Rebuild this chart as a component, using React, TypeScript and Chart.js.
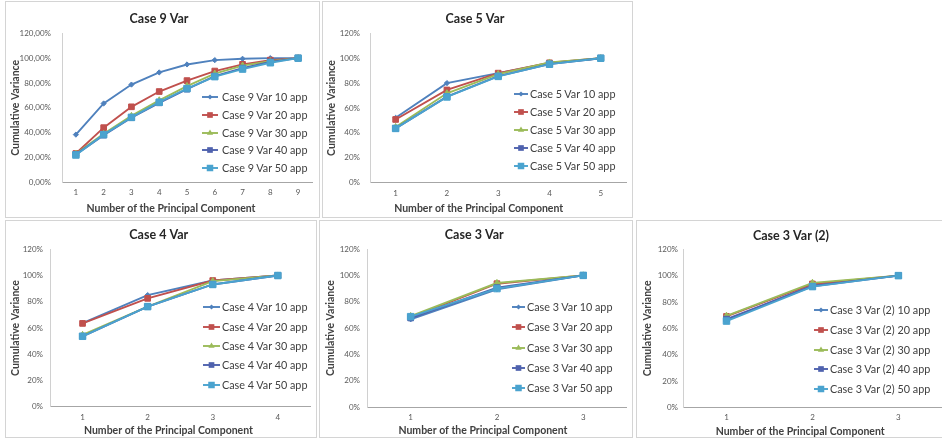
import React, { useEffect, useRef } from 'react';
import { Chart, registerables } from 'chart.js';

Chart.register(...registerables);

const FONT = 'Lato, "Open Sans", "DejaVu Sans", sans-serif';

// ---------- data ----------
const case9Components = ['1', '2', '3', '4', '5', '6', '7', '8', '9'];
const case9App10 = [38.4, 63.5, 78.7, 88.5, 94.9, 98.4, 99.5, 100, 100];
const case9App20 = [23.2, 44.0, 60.8, 73.1, 81.9, 89.6, 95.0, 98.4, 100];
const case9App30 = [23.0, 39.0, 53.5, 66.0, 77.5, 87.5, 94.0, 97.5, 100];
const case9App40 = [22.5, 38.0, 52.0, 64.0, 75.0, 85.5, 92.0, 97.0, 100];
const case9App50 = [22.0, 38.4, 52.3, 64.5, 75.5, 85.1, 91.2, 96.3, 100];

const case5Components = ['1', '2', '3', '4', '5'];
const case5App10 = [52.1, 80.0, 88.0, 96.0, 100];
const case5App20 = [50.8, 74.5, 88.0, 96.3, 100];
const case5App30 = [44.7, 71.8, 87.2, 96.5, 100];
const case5App40 = [43.6, 69.1, 85.6, 95.2, 100];
const case5App50 = [43.6, 68.9, 85.4, 95.2, 100];

const case4Components = ['1', '2', '3', '4'];
const case4App10 = [63.7, 85.1, 96.2, 100];
const case4App20 = [63.5, 82.6, 96.2, 100];
const case4App30 = [54.7, 76.3, 95.7, 100];
const case4App40 = [53.7, 76.3, 93.2, 100];
const case4App50 = [53.7, 76.3, 93.2, 100];

const case3Components = ['1', '2', '3'];
const case3App10 = [66.7, 89.5, 100];
const case3App20 = [68.2, 93.7, 100];
const case3App30 = [69.2, 94.2, 100];
const case3App40 = [67.7, 90.7, 100];
const case3App50 = [68.7, 90.0, 100];

const case3bComponents = ['1', '2', '3'];
const case3bApp10 = [66.0, 92.9, 100];
const case3bApp20 = [69.0, 93.7, 100];
const case3bApp30 = [69.5, 94.5, 100];
const case3bApp40 = [67.0, 91.9, 100];
const case3bApp50 = [65.5, 91.7, 100];

const appCounts = ['10', '20', '30', '40', '50'];
const yMin = 0;
const yMax = 120;
const yStep = 20;

// ---------- styles ----------
const seriesColors = ['#4F81BD', '#C0504D', '#9BBB59', '#4F62AE', '#4AA3CF'];
const seriesPointStyles = ['rectRot', 'rect', 'triangle', 'rect', 'rect'];
const seriesRadii = [2.6, 4.0, 3.6, 4.0, 4.6];

type Spec = {
  title: string;
  prefix: string;
  labels: string[];
  series: number[][];
  decimals: boolean;
  box: [number, number, number, number];
  canvasW?: number;
  ca: [number, number, number, number];
  titleY: number;
  yLabelRight: number;
  yTitleX: number;
  xLabelY: number;
  xTitleY: number;
  xTitleCenter: number;
  legend: { markerL: number; markerR: number; textX: number; y0: number; dy: number };
};

const panels: Spec[] = [
  {
    title: 'Case 9 Var', prefix: 'Case 9 Var', labels: case9Components,
    series: [case9App10, case9App20, case9App30, case9App40, case9App50], decimals: true,
    box: [6, 2, 313, 215], ca: [62, 33.3, 312, 182.3], titleY: 18.5,
    yLabelRight: 51, yTitleX: 16, xLabelY: 192.5, xTitleY: 208.5, xTitleCenter: 171,
    legend: { markerL: 202, markerR: 218, textX: 222, y0: 97.3, dy: 17.6 },
  },
  {
    title: 'Case 5 Var', prefix: 'Case 5 Var', labels: case5Components,
    series: [case5App10, case5App20, case5App30, case5App40, case5App50], decimals: false,
    box: [323, 2, 309, 215], ca: [370, 33.3, 627, 182.7], titleY: 19,
    yLabelRight: 360, yTitleX: 332, xLabelY: 193, xTitleY: 208.5, xTitleCenter: 479,
    legend: { markerL: 514, markerR: 528, textX: 530, y0: 94.3, dy: 17.85 },
  },
  {
    title: 'Case 4 Var', prefix: 'Case 4 Var', labels: case4Components,
    series: [case4App10, case4App20, case4App30, case4App40, case4App50], decimals: false,
    box: [6, 221, 310, 216], ca: [50, 249.3, 311.5, 406.7], titleY: 235,
    yLabelRight: 43, yTitleX: 16, xLabelY: 417, xTitleY: 431, xTitleCenter: 169,
    legend: { markerL: 203, markerR: 220, textX: 222, y0: 307.3, dy: 19.35 },
  },
  {
    title: 'Case 3 Var', prefix: 'Case 3 Var', labels: case3Components,
    series: [case3App10, case3App20, case3App30, case3App40, case3App50], decimals: false,
    box: [320, 221, 312, 216], ca: [367.5, 249, 628.5, 407.3], titleY: 235,
    yLabelRight: 360, yTitleX: 331, xLabelY: 417, xTitleY: 431, xTitleCenter: 484,
    legend: { markerL: 512, markerR: 525, textX: 527, y0: 307.3, dy: 20.1 },
  },
  {
    title: 'Case 3 Var (2)', prefix: 'Case 3 Var (2)', labels: case3bComponents,
    series: [case3bApp10, case3bApp20, case3bApp30, case3bApp40, case3bApp50], decimals: false,
    box: [637, 221, 305, 216], canvasW: 310, ca: [683.5, 249.3, 945, 407.3], titleY: 236,
    yLabelRight: 678, yTitleX: 648, xLabelY: 417.5, xTitleY: 432, xTitleCenter: 802,
    legend: { markerL: 814, markerR: 828, textX: 830, y0: 310.3, dy: 19.7 },
  },
];

const TITLE_SIZE = 12.5;
const AXIS_TITLE_SIZE = 10.5;
const TICK_SIZE = 8;
const LEGEND_SIZE = 10.8;

function ChartPanel({ spec }: { spec: Spec }) {
  const ref = useRef<HTMLCanvasElement>(null);
  const [bl, bt, bw, bh] = spec.box;
  const cw = spec.canvasW ?? bw;

  useEffect(() => {
    const caL = spec.ca[0] - bl;
    const caT = spec.ca[1] - bt;
    const caR = spec.ca[2] - bl;
    const caB = spec.ca[3] - bt;
    const titleLH = TITLE_SIZE * 1.2;
    const titleTop = spec.titleY - bt - titleLH / 2;
    const axisLH = AXIS_TITLE_SIZE * 1.2;
    const tickLH = TICK_SIZE * 1.2;
    const xTitleShift = spec.xTitleCenter - (spec.ca[0] + spec.ca[2]) / 2;

    const chart = new Chart(ref.current as HTMLCanvasElement, {
      type: 'line',
      data: {
        labels: spec.labels,
        datasets: spec.series.map((d, i) => ({
          label: `${spec.prefix} ${appCounts[i]} app`,
          data: d,
          borderColor: seriesColors[i],
          backgroundColor: seriesColors[i],
          pointBackgroundColor: seriesColors[i],
          pointBorderColor: seriesColors[i],
          pointStyle: seriesPointStyles[i] as any,
          pointRadius: seriesRadii[i],
          pointBorderWidth: 1,
          borderWidth: 1.9,
          tension: 0,
          order: 5 - i,
        })),
      },
      options: {
        responsive: false,
        animation: false,
        devicePixelRatio: 1,
        events: [],
        layout: { padding: { left: 0, top: 0, bottom: 0, right: cw - caR } },
        plugins: {
          legend: { display: false },
          tooltip: { enabled: false },
          title: {
            display: true,
            text: spec.title,
            color: '#262626',
            font: { family: FONT, size: TITLE_SIZE, weight: 'bold', lineHeight: 1.2 },
            padding: { top: titleTop, bottom: caT - titleTop - titleLH },
          },
        },
        scales: {
          x: {
            type: 'category',
            offset: true,
            grid: { display: false, drawTicks: false },
            border: { display: true, color: '#a6a6a6', width: 1 },
            ticks: {
              autoSkip: false,
              maxRotation: 0,
              color: '#595959',
              font: { family: FONT, size: TICK_SIZE, lineHeight: 1.2 },
              padding: spec.xLabelY - spec.ca[3] - tickLH / 2,
            },
            title: {
              display: true,
              text: 'Number of the Principal Component',
              color: '#404040',
              font: { family: FONT, size: AXIS_TITLE_SIZE, weight: 'bold', lineHeight: 1.2 },
              padding: { top: 0, bottom: bh - (spec.xTitleY - bt) - axisLH / 2 },
            },
            afterFit: (s: any) => {
              s.height = bh - caB;
              if (!s.__shifted) {
                const orig = Object.getPrototypeOf(s).drawTitle;
                s.drawTitle = function () {
                  this.ctx.save();
                  this.ctx.translate(xTitleShift, 0);
                  orig.call(this);
                  this.ctx.restore();
                };
                s.__shifted = true;
              }
            },
          },
          y: {
            min: yMin,
            max: yMax,
            grid: { display: false, drawTicks: false },
            border: { display: true, color: '#d0d0d0', width: 1 },
            ticks: {
              stepSize: yStep,
              color: '#595959',
              font: { family: FONT, size: TICK_SIZE, lineHeight: 1.2 },
              padding: spec.ca[0] - spec.yLabelRight,
              callback: (v: any) =>
                spec.decimals ? `${Number(v).toFixed(2).replace('.', ',')}%` : `${v}%`,
            },
            title: {
              display: true,
              text: 'Cumulative Variance',
              color: '#404040',
              font: { family: FONT, size: AXIS_TITLE_SIZE, weight: 'bold', lineHeight: 1.2 },
              padding: { top: spec.yTitleX - bl - axisLH / 2, bottom: 0 },
            },
            afterFit: (s: any) => {
              s.width = caL;
            },
          },
        },
      } as any,
    });
    return () => chart.destroy();
  }, []);

  return (
    <canvas
      ref={ref}
      width={cw}
      height={bh}
      style={{ position: 'absolute', left: bl, top: bt, width: cw, height: bh, display: 'block' }}
    />
  );
}

function Marker({ i, w }: { i: number; w: number }) {
  const c = seriesColors[i];
  const cx = w / 2;
  const cy = 5;
  const r = seriesRadii[i];
  let shape: React.ReactNode = null;
  const style = seriesPointStyles[i];
  if (style === 'rectRot') {
    shape = <polygon points={`${cx},${cy - r} ${cx + r},${cy} ${cx},${cy + r} ${cx - r},${cy}`} fill={c} />;
  } else if (style === 'rect') {
    const s = r * Math.SQRT1_2;
    shape = <rect x={cx - s} y={cy - s} width={2 * s} height={2 * s} fill={c} />;
  } else {
    const h = r * 1.5;
    const hw = r * 0.866;
    shape = <polygon points={`${cx},${cy - r} ${cx + hw},${cy - r + h} ${cx - hw},${cy - r + h}`} fill={c} />;
  }
  return (
    <svg width={w} height={10} style={{ display: 'block' }}>
      <line x1={0} y1={cy} x2={w} y2={cy} stroke={c} strokeWidth={1.9} />
      {shape}
    </svg>
  );
}

function HtmlLegend({ spec }: { spec: Spec }) {
  const { markerL, markerR, textX, y0, dy } = spec.legend;
  return (
    <>
      {spec.series.map((_, i) => {
        const y = y0 + i * dy;
        return (
          <React.Fragment key={i}>
            <div style={{ position: 'absolute', left: markerL, top: y - 5 }}>
              <Marker i={i} w={markerR - markerL} />
            </div>
            <span
              style={{
                position: 'absolute',
                left: textX,
                top: y - 7,
                height: 14,
                lineHeight: '14px',
                fontFamily: FONT,
                fontSize: LEGEND_SIZE,
                color: '#404040',
                whiteSpace: 'nowrap',
              }}
            >
              {`${spec.prefix} ${appCounts[i]} app`}
            </span>
          </React.Fragment>
        );
      })}
    </>
  );
}

export default function App() {
  return (
    <div
      style={{
        position: 'fixed',
        left: 0,
        top: 0,
        width: 942,
        height: 440,
        overflow: 'hidden',
        background: '#ffffff',
      }}
    >
      {panels.map((p, k) => (
        <React.Fragment key={k}>
          <div
            style={{
              position: 'absolute',
              left: p.box[0] - 1,
              top: p.box[1] - 1,
              width: p.box[2],
              height: p.box[3],
              border: '1px solid #d4d4d4',
            }}
          />
          <ChartPanel spec={p} />
          <HtmlLegend spec={p} />
        </React.Fragment>
      ))}
    </div>
  );
}
